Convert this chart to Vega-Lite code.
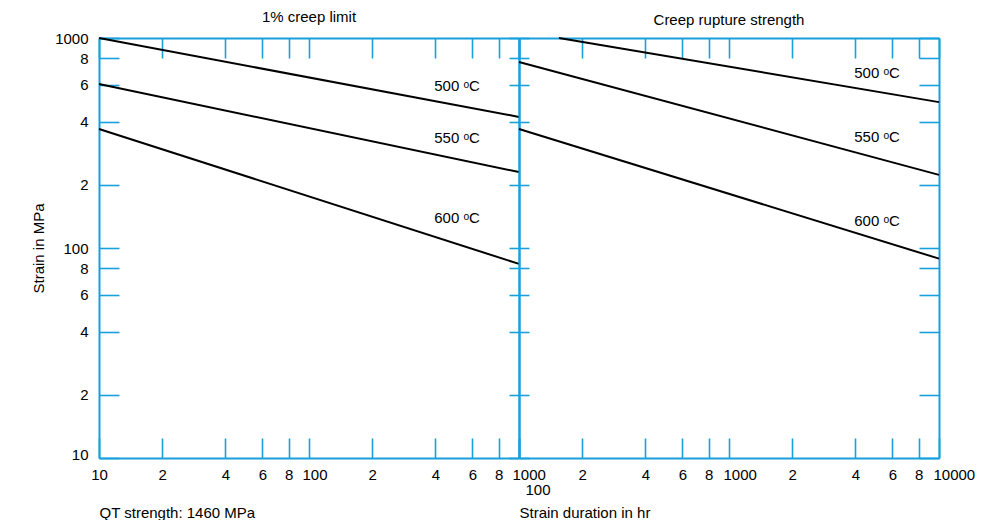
{
  "$schema": "https://vega.github.io/schema/vega-lite/v6.json",
  "autosize": {"type": "pad"},
  "padding": {"left": 31, "top": 10, "right": 0, "bottom": 0},
  "background": "white",
  "spacing": 0,
  "bounds": "flush",
  "config": {
    "view": {"stroke": null},
    "font": "Liberation Sans",
    "title": {"font": "Liberation Sans", "fontSize": 15, "fontWeight": "normal", "color": "black", "baseline": "alphabetic", "offset": 6},
    "axis": {
      "grid": false,
      "domainColor": "#18a0dc",
      "tickColor": "#18a0dc",
      "domainWidth": 2,
      "tickWidth": 1.6,
      "labelFont": "Liberation Sans",
      "labelFontSize": 15,
      "labelColor": "black",
      "labelFlush": false,
      "labelOverlap": false,
      "labelBound": false,
      "titleFont": "Liberation Sans",
      "titleFontSize": 15,
      "titleFontWeight": "normal",
      "titleColor": "black"
    }
  },
  "hconcat": [
    {
      "width": 420,
      "height": 420,
      "title": {"text": "1% creep limit"},
      "resolve": {"axis": {"x": "independent", "y": "independent"}},
      "layer": [
        {
          "data": {"values": [
            {"temp": "500", "t": 10, "s": 1000}, {"temp": "500", "t": 1000, "s": 421},
            {"temp": "550", "t": 10, "s": 604}, {"temp": "550", "t": 1000, "s": 230},
            {"temp": "600", "t": 10, "s": 369}, {"temp": "600", "t": 1000, "s": 84}
          ]},
          "mark": {"type": "line", "color": "black", "strokeWidth": 2},
          "encoding": {
            "x": {"field": "t", "type": "quantitative", "scale": {"type": "log", "domain": [10, 1000], "nice": false},
              "axis": {"orient": "bottom", "values": [10, 20, 40, 60, 80, 100, 200, 400, 600, 800, 1000], "format": "d",
                "labelExpr": "datum.value==10||datum.value==100||datum.value==1000 ? datum.label : substring(datum.label,0,1)",
                "tickSize": -20, "labelPadding": 29, "labelBaseline": "top",
                "labelAlign": {"condition": {"test": "datum.value==100||datum.value==1000", "value": "left"}, "value": "center"},
                "labelOffset": {"condition": {"test": "datum.value==100||datum.value==1000", "value": -7}, "value": 0},
                "title": "QT strength: 1460 MPa", "titleX": 0, "titleY": 59, "titleAlign": "left", "titleBaseline": "alphabetic", "titleAnchor": "start"}},
            "y": {"field": "s", "type": "quantitative", "scale": {"type": "log", "domain": [10, 1000], "nice": false},
              "axis": {"orient": "left", "values": [10, 20, 40, 60, 80, 100, 200, 400, 600, 800, 1000], "format": "d",
                "labelExpr": "datum.value==10||datum.value==100||datum.value==1000 ? datum.label : substring(datum.label,0,1)",
                "tickSize": -20, "labelPadding": 31,
                "labelOffset": {"condition": {"test": "datum.value==10", "value": -4}, "value": 0},
                "title": "Strain in MPa", "titleX": -61, "titleY": 210, "titleAlign": "center", "titleBaseline": "middle", "titleAngle": -90}},
            "detail": {"field": "temp", "type": "nominal"}
          }
        },
        {
          "data": {"values": [
            {"label": "500 ᵒC", "t": 507, "s": 591},
            {"label": "550 ᵒC", "t": 507, "s": 334},
            {"label": "600 ᵒC", "t": 507, "s": 139}
          ]},
          "mark": {"type": "text", "fontSize": 15, "color": "black", "align": "center", "baseline": "middle"},
          "encoding": {
            "x": {"field": "t", "type": "quantitative", "scale": {"type": "log", "domain": [10, 1000], "nice": false},
              "axis": {"orient": "top", "values": [10, 20, 40, 60, 80, 100, 200, 400, 600, 800, 1000], "labels": false, "tickSize": -20, "title": null}},
            "y": {"field": "s", "type": "quantitative", "scale": {"type": "log", "domain": [10, 1000], "nice": false},
              "axis": {"orient": "right", "values": [10, 20, 40, 60, 80, 100, 200, 400, 600, 800, 1000], "labels": false, "tickSize": -10, "title": null}},
            "text": {"field": "label", "type": "nominal"}
          }
        }
      ]
    },
    {
      "width": 420,
      "height": 420,
      "title": {"text": "Creep rupture strength"},
      "resolve": {"axis": {"x": "independent", "y": "independent"}},
      "layer": [
        {
          "data": {"values": [
            {"temp": "500", "t": 155, "s": 1000}, {"temp": "500", "t": 10000, "s": 495},
            {"temp": "550", "t": 100, "s": 769}, {"temp": "550", "t": 10000, "s": 223},
            {"temp": "600", "t": 100, "s": 369}, {"temp": "600", "t": 10000, "s": 89}
          ]},
          "mark": {"type": "line", "color": "black", "strokeWidth": 2},
          "encoding": {
            "x": {"field": "t", "type": "quantitative", "scale": {"type": "log", "domain": [100, 10000], "nice": false},
              "axis": {"orient": "bottom", "values": [100, 200, 400, 600, 800, 1000, 2000, 4000, 6000, 8000, 10000], "format": "d",
                "labelExpr": "datum.value==100||datum.value==1000||datum.value==10000 ? datum.label : substring(datum.label,0,1)",
                "tickSize": -20, "labelBaseline": "top",
                "labelPadding": {"condition": {"test": "datum.value==100", "value": 44}, "value": 29},
                "labelAlign": {"condition": {"test": "datum.value==100||datum.value==1000||datum.value==10000", "value": "left"}, "value": "center"},
                "labelOffset": {"condition": [{"test": "datum.value==100", "value": 6}, {"test": "datum.value==1000||datum.value==10000", "value": -6}], "value": 0},
                "title": "Strain duration in hr", "titleX": 0, "titleY": 59, "titleAlign": "left", "titleBaseline": "alphabetic", "titleAnchor": "start"}},
            "y": {"field": "s", "type": "quantitative", "scale": {"type": "log", "domain": [10, 1000], "nice": false},
              "axis": {"orient": "left", "values": [10, 20, 40, 60, 80, 100, 200, 400, 600, 800, 1000], "labels": false, "tickSize": -10, "title": null}},
            "detail": {"field": "temp", "type": "nominal"}
          }
        },
        {
          "data": {"values": [
            {"label": "500 ᵒC", "t": 5070, "s": 681},
            {"label": "550 ᵒC", "t": 5070, "s": 338},
            {"label": "600 ᵒC", "t": 5070, "s": 134}
          ]},
          "mark": {"type": "text", "fontSize": 15, "color": "black", "align": "center", "baseline": "middle"},
          "encoding": {
            "x": {"field": "t", "type": "quantitative", "scale": {"type": "log", "domain": [100, 10000], "nice": false},
              "axis": {"orient": "top", "values": [100, 200, 400, 600, 800, 1000, 2000, 4000, 6000, 8000, 10000], "labels": false, "tickSize": -20, "title": null}},
            "y": {"field": "s", "type": "quantitative", "scale": {"type": "log", "domain": [10, 1000], "nice": false},
              "axis": {"orient": "right", "values": [10, 20, 40, 60, 80, 100, 200, 400, 600, 800, 1000], "labels": false, "tickSize": -20, "title": null}},
            "text": {"field": "label", "type": "nominal"}
          }
        }
      ]
    }
  ]
}
